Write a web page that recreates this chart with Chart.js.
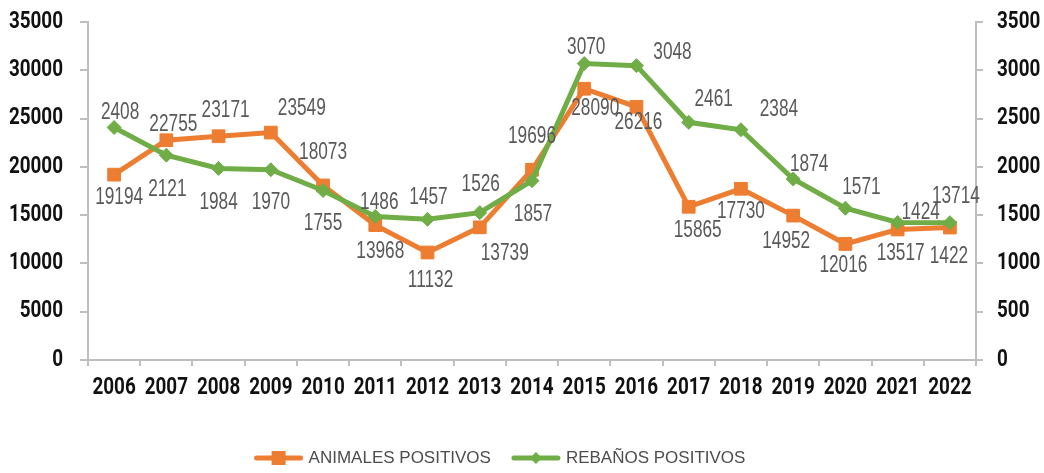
<!DOCTYPE html>
<html><head><meta charset="utf-8">
<script src="https://cdn.jsdelivr.net/npm/chart.js@4/dist/chart.umd.min.js"></script>
<style>html,body{margin:0;padding:0;background:#fff;}#wrap{width:1044px;height:473px;}</style>
</head><body><div id="wrap"><canvas id="c" width="1044" height="473"></canvas></div>
<script>
const years = ['2006','2007','2008','2009','2010','2011','2012','2013','2014','2015','2016','2017','2018','2019','2020','2021','2022'];
const animales = [19194,22755,23171,23549,18073,13968,11132,13739,19696,28090,26216,15865,17730,14952,12016,13517,13714];
const rebanos = [2408,2121,1984,1970,1755,1486,1457,1526,1857,3070,3048,2461,2384,1874,1571,1424,1422];
const seriesNames = ['ANIMALES POSITIVOS','REBAÑOS POSITIVOS'];

// label placement (offset from point), layout only
const animOff = [[5,23],[7,-16],[7,-26],[31,-24],[0,-33],[5,27],[3,28],[25,26],[0,-33],[11,20],[2,16],[9,24],[0,23],[-7,26],[-2,22],[3,24],[6,-31]];
const rebOff = [[6,-15],[1,34],[0,34],[0,33],[0,33],[4,-14],[1,-22],[1,-28],[1,34],[2,-16],[36,-13],[25,-23],[38,-20],[16,-14],[16,-21],[23,-10],[-1,34]];

const ORANGE = '#ED7D31', GREEN = '#70AD47';
const COND = "Roboto";          // drawn horizontally condensed
const TICK_SX = 0.82, LABEL_SX = 0.75;

const condensePlugin = {
  id: 'condense',
  beforeDraw(chart){
    const ctx = chart.ctx;
    if (ctx.__cond) return;
    ctx.__cond = true;
    const orig = ctx.fillText.bind(ctx);
    ctx.fillText = function(t, x, y, mw){
      if (this.font.indexOf(COND) >= 0) {
        this.save(); this.translate(x, y); this.scale(TICK_SX, 1); orig(t, 0, 0); this.restore();
      } else if (mw === undefined) orig(t, x, y); else orig(t, x, y, mw);
    };
  }
};

const labelPlugin = {
  id: 'pointLabels',
  afterDatasetsDraw(chart){
    const ctx = chart.ctx;
    ctx.save();
    ctx.font = "23px 'Liberation Sans', Arial, sans-serif";
    ctx.fillStyle = '#595959';
    ctx.textAlign = 'center';
    ctx.textBaseline = 'middle';
    const offs = [animOff, rebOff];
    chart.data.datasets.forEach((ds, di) => {
      const meta = chart.getDatasetMeta(di);
      meta.data.forEach((pt, i) => {
        const o = offs[di][i];
        ctx.save();
        ctx.translate(pt.x + o[0], pt.y + o[1]);
        ctx.scale(LABEL_SX, 1);
        ctx.fillText(String(ds.data[i]), 0, 0);
        ctx.restore();
      });
    });
    ctx.restore();
  }
};

const legendPlugin = {
  id: 'lineLegend',
  afterDraw(chart){
    const ctx = chart.ctx;
    ctx.save();
    ctx.font = "17px 'Liberation Sans', Arial, sans-serif";
    ctx.textBaseline = 'middle';
    const iconW = 48, gapText = 6, gapItem = 21;
    const items = chart.data.datasets.map((ds, i) => ({ ds, w: iconW + gapText + ctx.measureText(ds.label).width }));
    const total = items.reduce((a, b) => a + b.w, 0) + gapItem * (items.length - 1);
    let x = chart.width / 2 - 22 - total / 2;
    const y = chart.height - 15;
    items.forEach((it, i) => {
      const c = it.ds.borderColor;
      ctx.strokeStyle = c; ctx.fillStyle = c; ctx.lineWidth = 5; ctx.lineCap = 'round';
      ctx.beginPath(); ctx.moveTo(x + 2, y); ctx.lineTo(x + iconW - 2, y); ctx.stroke();
      const cx = x + iconW / 2;
      if (i === 0) { ctx.fillRect(cx - 7, y - 7, 14, 14); }
      else { ctx.beginPath(); ctx.moveTo(cx, y - 6); ctx.lineTo(cx + 6, y); ctx.lineTo(cx, y + 6); ctx.lineTo(cx - 6, y); ctx.closePath(); ctx.fill(); }
      ctx.fillStyle = '#4d4d4d';
      ctx.textAlign = 'left';
      ctx.fillText(it.ds.label, x + iconW + gapText, y);
      x += it.w + gapItem;
    });
    ctx.restore();
  }
};

const tickFont = { family: COND, size: 23, weight: 'bold' };

new Chart(document.getElementById('c'), {
  type: 'line',
  data: {
    labels: years,
    datasets: [
      { label: seriesNames[0], data: animales, yAxisID: 'y', borderColor: ORANGE, backgroundColor: ORANGE,
        borderWidth: 5, pointStyle: 'rect', pointRadius: 9, pointHoverRadius: 9, pointBorderWidth: 1,
        pointBackgroundColor: ORANGE, pointBorderColor: ORANGE, tension: 0, order: 2 },
      { label: seriesNames[1], data: rebanos, yAxisID: 'y1', borderColor: GREEN, backgroundColor: GREEN,
        borderWidth: 5, pointStyle: 'rectRot', pointRadius: 7, pointHoverRadius: 7, pointBorderWidth: 1,
        pointBackgroundColor: GREEN, pointBorderColor: GREEN, tension: 0, order: 1 }
    ]
  },
  options: {
    responsive: false, animation: false,
    layout: { padding: { top: 22, left: 0, right: 0, bottom: 42 } },
    plugins: { tooltip: { enabled: false }, legend: { display: false } },
    scales: {
      x: {
        offset: true,
        grid: { offset: true, drawOnChartArea: false, drawTicks: true, tickLength: 6, color: '#BFBFBF', lineWidth: 2 },
        border: { display: true, color: '#BFBFBF', width: 2 },
        ticks: { color: '#111', font: tickFont, padding: 8, maxRotation: 0, autoSkip: false },
        afterFit(s){ s.height = 71; s.paddingLeft = 0; s.paddingRight = 0; }
      },
      y: {
        position: 'left', min: 0, max: 35000,
        grid: { drawOnChartArea: false, drawTicks: true, tickLength: 8, color: '#BFBFBF', lineWidth: 2 },
        border: { display: true, color: '#BFBFBF', width: 2 },
        ticks: { stepSize: 5000, color: '#111', font: tickFont, padding: 17, callback: v => String(v) },
        afterFit(s){ s.width = 88; s.paddingTop = 0; s.paddingBottom = 0; }
      },
      y1: {
        position: 'right', min: 0, max: 3500,
        grid: { drawOnChartArea: false, drawTicks: true, tickLength: 7, color: '#BFBFBF', lineWidth: 2 },
        border: { display: true, color: '#BFBFBF', width: 2 },
        ticks: { stepSize: 500, color: '#111', font: tickFont, padding: 14, callback: v => String(v) },
        afterFit(s){ s.width = 68; s.paddingTop = 0; s.paddingBottom = 0; }
      }
    }
  },
  plugins: [condensePlugin, labelPlugin, legendPlugin]
});
</script>
</body></html>
